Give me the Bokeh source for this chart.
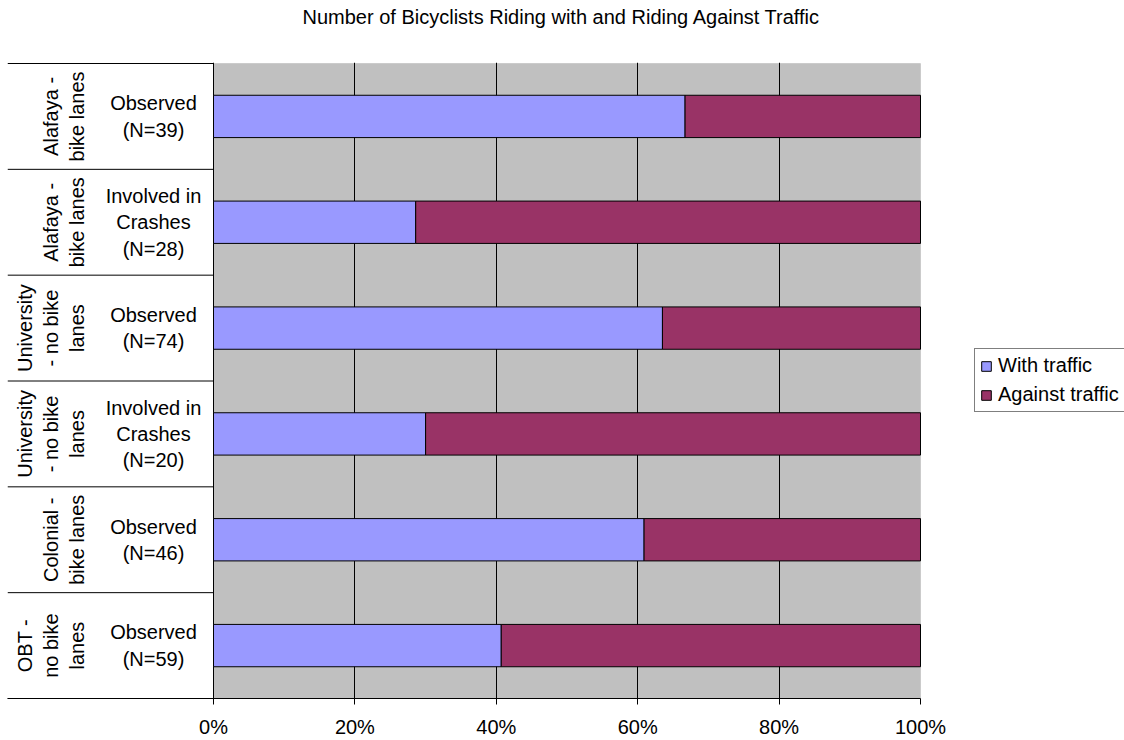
import math
from bokeh.plotting import figure
from bokeh.models import (Range1d, FixedTicker, PrintfTickFormatter, BoxAnnotation,
                          Legend, LegendItem, ColumnDataSource, Title)
from bokeh.core.properties import value
from bokeh.embed import file_html
from bokeh.resources import INLINE

# ---- data (percent of bicyclists) ----
groups = ["Alafaya -\nbike lanes", "Alafaya -\nbike lanes",
          "University\n- no bike\nlanes", "University\n- no bike\nlanes",
          "Colonial -\nbike lanes", "OBT -\nno bike\nlanes"]
subgroups = ["Observed\n(N=39)", "Involved in\nCrashes\n(N=28)",
             "Observed\n(N=74)", "Involved in\nCrashes\n(N=20)",
             "Observed\n(N=46)", "Observed\n(N=59)"]
with_traffic = [66.7, 28.6, 63.5, 30.0, 60.9, 40.7]
against_traffic = [33.3, 71.4, 36.5, 70.0, 39.1, 59.3]
series_names = ["With traffic", "Against traffic"]
series_colors = ["#9999FF", "#993366"]
x_ticks = [0, 20, 40, 60, 80, 100]
title_text = "Number of Bicyclists Riding with and Riding Against Traffic"

# ---- layout constants ----
W, H = 1124, 740
FRAME_L, FRAME_R, FRAME_T, FRAME_B = 7, 1124, 62, 698
ZERO_PX, FULL_PX = 213, 920
FONT = "Liberation Sans"
FS = "20px"

n = len(groups)
px_per_unit = (FULL_PX - ZERO_PX) / 100.0
x_start = -(ZERO_PX - FRAME_L) / px_per_unit
x_end = 100 + (FRAME_R - FULL_PX) / px_per_unit
pad = n / (FRAME_B - FRAME_T - 1)

p = figure(width=W, height=H, output_backend="svg", toolbar_location=None,
           title=None,
           x_range=Range1d(x_start, x_end), y_range=Range1d(0, n + pad),
           y_axis_location=None,
           min_border_left=FRAME_L, min_border_right=W - FRAME_R,
           min_border_top=FRAME_T, min_border_bottom=H - FRAME_B)
p.outline_line_color = None
p.background_fill_color = "white"
p.border_fill_color = "white"

# plot-area background
bg = BoxAnnotation(left=0, right=100, bottom=0, top=n, fill_color="#C0C0C0",
                   fill_alpha=1.0, line_color="#A0A0A0", line_width=1, level="image")
p.add_layout(bg)

ys = [n - 0.5 - i for i in range(n)]
totals = [w + a for w, a in zip(with_traffic, against_traffic)]
src = ColumnDataSource(dict(y=ys, w=with_traffic, t=totals, g=groups, s=subgroups))

r1 = p.hbar(y="y", left=0, right="w", height=0.4, source=src,
            fill_color=series_colors[0], line_color="black", line_width=1)
r2 = p.hbar(y="y", left="w", right="t", height=0.4, source=src,
            fill_color=series_colors[1], line_color="black", line_width=1)

# category separators in the label area
bounds = list(range(n + 1))
p.segment(x0=[x_start] * len(bounds), x1=[0] * len(bounds), y0=bounds, y1=bounds,
          line_color="black", line_width=1)

# category labels
p.text(x=0, y="y", text="g", source=src, angle=math.pi / 2, x_offset=-125,
       text_align="center", text_baseline="bottom", text_font=value(FONT),
       text_font_size=FS, text_color="black", text_line_height=1.2)
p.text(x=0, y="y", text="s", source=src, x_offset=-60,
       text_align="center", text_baseline="middle", text_font=value(FONT),
       text_font_size=FS, text_color="black", text_line_height=1.2)

# grid
p.xgrid.ticker = FixedTicker(ticks=x_ticks[:-1])
p.xgrid.grid_line_color = "black"
p.xgrid.grid_line_width = 1
p.ygrid.visible = False

# x axis
ax = p.xaxis[0]
ax.bounds = (x_start, 100)
ax.ticker = FixedTicker(ticks=x_ticks)
ax.formatter = PrintfTickFormatter(format="%d%%")
ax.major_tick_out = 6
ax.major_tick_in = 0
ax.minor_tick_line_color = None
ax.axis_line_color = "black"
ax.major_tick_line_color = "black"
ax.major_label_text_font = FONT
ax.major_label_text_font_size = FS
ax.major_label_text_color = "black"
ax.major_label_standoff = 11

# title: spacer (next to the frame) and then the real title above it
p.add_layout(Title(text=" ", text_font_size="1px", standoff=32), "above")
p.add_layout(Title(text=title_text, align="left", offset=295, text_font=FONT,
                   text_font_size=FS, text_font_style="normal", text_color="black",
                   standoff=0, vertical_align="bottom"), "above")

# legend (right of the plot area)
legend = Legend(items=[LegendItem(label=series_names[0], renderers=[r1]),
                       LegendItem(label=series_names[1], renderers=[r2])],
                location=(974 - FRAME_L, FRAME_B - 412), margin=0, padding=5, spacing=6,
                glyph_width=12, glyph_height=12, label_standoff=6,
                label_text_font=FONT, label_text_font_size=FS,
                label_text_color="black", border_line_color="black",
                border_line_width=1, background_fill_color="white",
                background_fill_alpha=1.0)
p.add_layout(legend)

open("out.html", "w").write(file_html(p, INLINE))
